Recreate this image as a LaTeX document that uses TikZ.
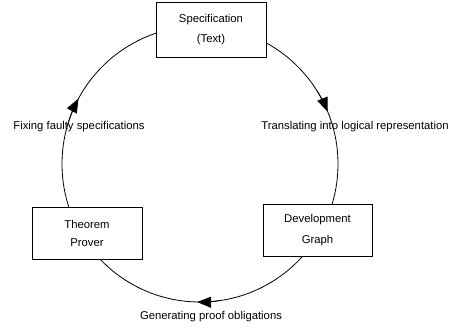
\documentclass[tikz,border=0pt]{standalone}
\usepackage{fontspec}
\setmainfont{Liberation Sans}
\usetikzlibrary{arrows.meta}
\begin{document}
\begin{tikzpicture}[x=1pt,y=1pt,
  box/.style={draw,line width=0.8pt,fill=white,align=center,inner sep=0pt,
    font=\fontsize{11.3}{20.5}\selectfont},
  lbl/.style={font=\fontsize{11.3}{13}\selectfont,inner sep=0pt},
  tip/.style={-{Triangle[length=14,width=11]},line width=0.8pt}]
\useasboundingbox (0,0) rectangle (452,-327);
\coordinate (c) at (200,-164);
\draw[line width=0.8pt] (c) circle[radius=138];
\draw[tip] ([shift={(32:138)}]c) arc[start angle=32, end angle=22.3, radius=138];
\draw[tip] ([shift={(162:138)}]c) arc[start angle=162, end angle=151.7, radius=138];
\draw[tip] ([shift={(279:138)}]c) arc[start angle=279, end angle=268.8, radius=138];
\node[box,minimum width=110,minimum height=55] (spec) at (211,-29.5) {Specification\\(Text)};
\node[box,minimum width=110,minimum height=52] (thm) at (87,-233) {Theorem\\[-2.5pt]Prover};
\node[box,minimum width=109,minimum height=52] (dev) at (317.5,-230) {Development\\Graph};
\node[lbl] (l1) at (79,-127) {Fixing faulty specifications};
\node[lbl] (l2) at (355,-127) {Translating into logical representation};
\node[lbl] (l3) at (211,-317) {Generating proof obligations};
\end{tikzpicture}
\end{document}
